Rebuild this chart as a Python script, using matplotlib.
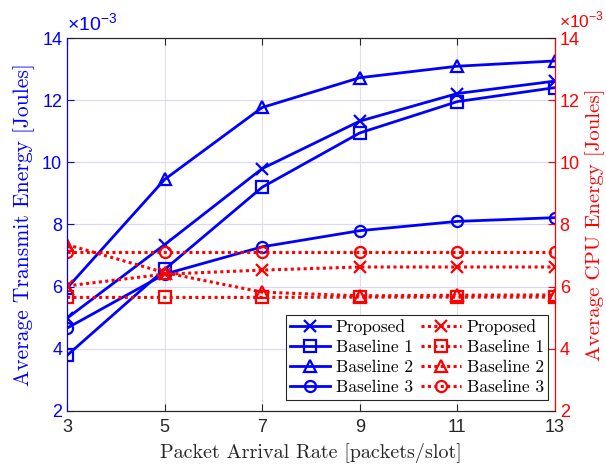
import numpy as np
import matplotlib
matplotlib.use('Agg')
from matplotlib import pyplot as plt

# packet arrival rate (packets/slot)
rate = [3, 5, 7, 9, 11, 13]

# average transmit energy, x 1e-3 Joules
tx_proposed = [4.98, 7.35, 9.80, 11.33, 12.22, 12.62]
tx_base1 = [3.78, 6.55, 9.20, 10.95, 11.96, 12.41]
tx_base2 = [5.95, 9.45, 11.77, 12.73, 13.10, 13.27]
tx_base3 = [4.66, 6.40, 7.28, 7.80, 8.10, 8.22]

# average CPU energy, x 1e-3 Joules
cpu_proposed = [6.02, 6.40, 6.53, 6.63, 6.63, 6.63]
cpu_base1 = [5.65, 5.65, 5.65, 5.66, 5.66, 5.66]
cpu_base2 = [7.35, 6.45, 5.82, 5.70, 5.72, 5.73]
cpu_base3 = [7.12, 7.12, 7.12, 7.12, 7.12, 7.12]

names = ['Proposed', 'Baseline 1', 'Baseline 2', 'Baseline 3']
marks = ['x', 's', '^', 'o']

blue = '#0000ff'
red = '#ff0000'
dark = '#262626'
serif = 'cmr10'

plt.rcParams['font.family'] = ['Liberation Sans', 'DejaVu Sans']
plt.rcParams['mathtext.fontset'] = 'custom'
plt.rcParams['mathtext.rm'] = 'Liberation Sans'

fig = plt.figure(figsize=(6.06, 4.67), dpi=100)
ax = fig.add_axes([0.1106, 0.1206, 0.805, 0.7974])
ax2 = ax.twinx()

lines = []
for vals, m, n in zip([tx_proposed, tx_base1, tx_base2, tx_base3], marks, names):
    l, = ax.plot(rate, vals, color=blue, lw=2, marker=m, ms=8, mfc='none',
                 mew=1.6, label=n)
    lines.append(l)
for vals, m, n in zip([cpu_proposed, cpu_base1, cpu_base2, cpu_base3], marks, names):
    l, = ax2.plot(rate, vals, color=red, lw=2.2, ls=(0, (1, 1.1)), marker=m, ms=8,
                  mfc='none', mew=1.6, label=n)
    lines.append(l)

for a in (ax, ax2):
    a.set_xlim(3, 13)
    a.set_ylim(2, 14)
    a.set_xticks(rate)
    a.set_yticks(np.arange(2, 15, 2))

ax.grid(True, axis='y', color=(0.85, 0.85, 1.0), lw=0.8)
ax.grid(True, axis='x', color=(0.88, 0.88, 0.88), lw=0.8)
ax.set_axisbelow(True)

ax.tick_params(axis='x', direction='in', top=True, colors=dark, labelsize=13,
               length=5, pad=6)
ax.tick_params(axis='y', direction='in', colors=blue, labelsize=13, length=5)
ax2.tick_params(axis='y', direction='in', colors=red, labelsize=13, length=5)
ax2.tick_params(axis='x', top=False, bottom=False)

for a in (ax, ax2):
    a.spines['top'].set_color(dark)
    a.spines['bottom'].set_color(dark)
    a.spines['left'].set_color(blue)
    a.spines['right'].set_color(red)

ax.set_xlabel('Packet Arrival Rate [packets/slot]', family=serif, fontsize=14.5,
              color=dark, labelpad=5)
ax.set_ylabel('Average Transmit Energy [Joules]', family=serif, fontsize=15.5,
              color=blue, labelpad=5)
ax2.set_ylabel('Average CPU Energy [Joules]', family=serif, fontsize=15,
               color=red, labelpad=4)

ax.text(0.0, 1.008, r'$\times10^{-3}$', transform=ax.transAxes, color=blue,
        fontsize=14, ha='left', va='bottom')
ax2.text(1.008, 1.02, r'$\times10^{-3}$', transform=ax2.transAxes, color=red,
         fontsize=12.5, ha='left', va='bottom')

leg = ax2.legend(handles=lines, ncol=2, loc='lower right',
                 bbox_to_anchor=(0.993, 0.02), prop={'family': serif, 'size': 12.5},
                 frameon=True, fancybox=False, framealpha=1, edgecolor=dark,
                 handlelength=2.3, columnspacing=0.5, handletextpad=0.3,
                 labelspacing=0.28, borderpad=0.25, borderaxespad=0.2)
leg.get_frame().set_linewidth(0.8)

fig.savefig('out.png', dpi=100)
